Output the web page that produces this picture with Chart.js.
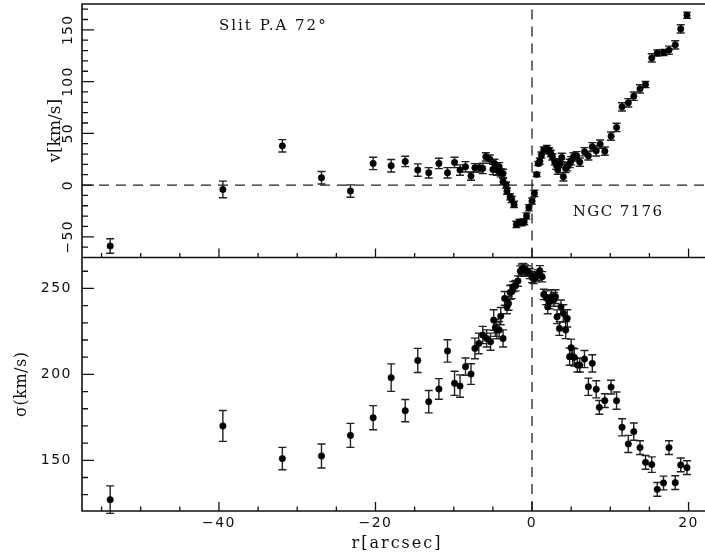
<!DOCTYPE html>
<html>
<head>
<meta charset="utf-8">
<script src="https://cdn.jsdelivr.net/npm/chart.js@4.4.1/dist/chart.umd.min.js"></script>
<style>
  html, body { margin: 0; padding: 0; background: #fff; }
  #wrap { width: 705px; height: 556px; }
</style>
</head>
<body>
<div id="wrap"><canvas id="kin" width="705" height="556"></canvas></div>
<script>
// NGC 7176 kinematics, slit P.A. 72 deg: rotation (top) and dispersion (bottom)

const rVel = [-53.9, -39.5, -31.9, -26.9, -23.2, -20.3, -18.0, -16.2, -14.6, -13.2, -11.9, -10.8, -9.9, -9.2, -8.5,
  -7.8, -7.3, -6.7, -6.3, -5.9, -5.4, -5.0, -4.8, -4.5, -4.2, -4.0, -3.7, -3.7, -3.3, -3.2, -2.8, -2.6, -2.3,
  -2.0, -1.6, -1.3, -1.0, -0.7, -0.4, 0.0, 0.3, 0.6, 0.8, 1.0, 1.2, 1.5, 1.9, 2.2, 2.4, 2.6, 2.9, 3.1, 3.3,
  3.6, 3.8, 4.0, 4.3, 4.5, 4.8, 5.0, 5.3, 5.7, 6.1, 6.7, 7.2, 7.7, 8.2, 8.7, 9.3, 10.1, 10.8, 11.5, 12.3,
  13.0, 13.8, 14.5, 15.3, 16.0, 16.8, 17.5, 18.3, 19.0, 19.8];
const vel = [-58.9, -4.2, 37.9, 7.1, -5.8, 20.9, 18.7, 22.8, 14.5, 11.9, 20.9, 11.9, 21.9, 14.5, 17.7,
  8.7, 16.7, 16.7, 16.1, 27.3, 25.1, 15.1, 20.9, 14.5, 17.7, 11.9, 11.3, 3.2, 0, -5.8, -11.3, -13.8, -18.7,
  -38, -36, -36.4, -35.4, -29.9, -21.9, -15.4, -8, 10.3, 20.9, 23.2, 29, 33.8, 35.4, 33.1, 30.6, 27.3, 22.5, 19.3, 14.5,
  20.9, 26.7, 8, 16.1, 17.7, 20.9, 23.5, 27.3, 28.3, 22.2, 32.2, 28.3, 37, 33.1, 39.6, 32.8, 47.3, 55.7, 75.6, 79.5,
  85.9, 93, 97.2, 122.9, 127.7, 128.1, 130.3, 135.5, 150.9, 164.1];
const velErr = [7, 8, 6, 6, 6, 6, 6, 5, 6, 5, 5, 5, 5, 5, 5,
  4, 4, 4, 5, 4, 4, 5, 4, 5, 4, 4, 4, 3, 3, 3, 3, 3, 3,
  3, 3, 3, 3, 3, 3, 3, 3, 2, 2, 3, 3, 3, 3, 3, 3, 3, 3, 4, 4,
  4, 4, 4, 4, 4, 4, 4, 4, 4, 4, 4, 4, 4, 5, 4, 4, 4, 4, 4, 4,
  4, 4, 3, 4, 3, 3, 4, 4, 4, 3];

const rSig = [-53.9, -39.5, -31.9, -26.9, -23.2, -20.3, -18.0, -16.2, -14.6, -13.2, -11.9, -10.8, -9.9, -9.2, -8.5,
  -7.8, -7.3, -6.8, -6.3, -5.8, -5.3, -4.9, -4.7, -4.5, -4.2, -4.0, -3.7, -3.5, -3.2, -3.0, -2.8, -2.6, -2.4,
  -2.1, -1.8, -1.5, -1.3, -1.1, -0.9, -0.6, -0.3, 0.0, 0.2, 0.5, 0.7, 1.0, 1.3, 1.5, 1.8, 2.0, 2.2, 2.5, 2.8,
  3.0, 3.2, 3.5, 3.7, 4.0, 4.3, 4.5, 4.8, 5.0, 5.2, 5.4, 5.8, 6.1, 6.7, 7.2, 7.7, 8.2, 8.6, 9.3, 10.1, 10.8,
  11.5, 12.3, 13.0, 13.8, 14.5, 15.3, 16.0, 16.8, 17.5, 18.3, 19.0, 19.8];
const sig = [127.1, 170, 151, 152.5, 164.5, 174.8, 198.1, 178.9, 208.1, 184.1, 191.5, 213.6, 194.8, 193.2, 204.5,
  200.2, 215.1, 218, 222.9, 220.9, 219, 231.6, 227.1, 225.8, 225.8, 233.9, 220.9, 244.2, 239.3, 241.3, 247.7, 248.1, 251,
  251.6, 254.3, 260.1, 261.2, 261.6, 260.7, 260.1, 258.7, 256.4, 255.8, 256.8, 257.8, 260.3, 256.8, 246.5, 244.6, 239.3, 242.2, 245.2, 243.6,
  245.2, 233.5, 226.7, 239.3, 235.5, 225.8, 232.6, 210.3, 215.5, 210.3, 209.9, 205.4, 205.4, 208.9, 192.8, 206.4, 191.3, 180.8, 184.7, 192.6, 184.7,
  169.2, 159.5, 166.7, 157.4, 148.8, 147.5, 133.1, 136.8, 157.4, 137, 147.3, 145.7];
const sigErr = [8, 9, 6.5, 7, 7, 7, 8, 6.5, 7, 6.5, 6, 6.5, 7, 6.5, 5,
  6, 6, 6, 5, 5, 5, 6, 5, 5, 5, 5, 5, 4, 4, 4, 4, 4, 3,
  3, 3, 3, 3, 3, 3, 3, 3, 3, 3, 3, 3, 3, 3, 3, 4, 4, 4, 4, 4,
  4, 4, 4, 4, 5, 5, 5, 5, 5, 5, 5, 4, 4, 5, 5, 5, 5, 4, 4, 4, 5,
  5, 5, 5, 4, 4, 4.5, 4, 4, 4, 4, 4, 4];

const xTicks = [-40, -20, 0, 20];
const vTicks = [-50, 0, 50, 100, 150];
const sTicks = [150, 200, 250];

// axis ranges of the two panels
const xMin = -57.5, xMax = 22.1;
const vMin = -70, vMax = 175;
const sMin = 120.5, sMax = 268;

const INK = '#111';
const numFont = '14px "DejaVu Sans"';
const txtFont = '16px "DejaVu Serif"';

function pts(xs, ys) { return xs.map((x, i) => ({ x: x, y: ys[i] })); }

function text(ctx, s, x, y, spacing) {
  ctx.letterSpacing = (spacing || 0) + 'px';
  ctx.fillText(s, x, y);
  ctx.letterSpacing = '0px';
}

// error bars, frame, inward ticks and labels (PGPLOT look)
const framePlugin = {
  id: 'frame',
  beforeDatasetsDraw(chart) {
    const ctx = chart.ctx, sx = chart.scales.x;
    ctx.save();
    ctx.strokeStyle = '#222';
    ctx.lineWidth = 1.4;
    const bars = [[rVel, vel, velErr, chart.scales.yv], [rSig, sig, sigErr, chart.scales.ys]];
    bars.forEach(([xs, ys, es, sy]) => {
      xs.forEach((x, i) => {
        const px = sx.getPixelForValue(x);
        const lo = sy.getPixelForValue(ys[i] - es[i]);
        const hi = sy.getPixelForValue(ys[i] + es[i]);
        ctx.beginPath();
        ctx.moveTo(px, lo); ctx.lineTo(px, hi);
        ctx.moveTo(px - 4, lo); ctx.lineTo(px + 4, lo);
        ctx.moveTo(px - 4, hi); ctx.lineTo(px + 4, hi);
        ctx.stroke();
      });
    });
    ctx.restore();
  },
  afterDraw(chart) {
    const ctx = chart.ctx, a = chart.chartArea;
    const sx = chart.scales.x, sv = chart.scales.yv, ss = chart.scales.ys;
    const mid = sv.getPixelForValue(vMin);
    ctx.save();
    ctx.strokeStyle = INK;
    ctx.lineWidth = 1.6;
    ctx.beginPath();
    ctx.moveTo(a.right, a.top); ctx.lineTo(a.left, a.top); ctx.lineTo(a.left, a.bottom); ctx.lineTo(a.right, a.bottom);
    ctx.moveTo(a.left, mid); ctx.lineTo(a.right, mid);
    ctx.stroke();

    ctx.lineWidth = 1.3;
    ctx.beginPath();
    // x ticks on the bottom of each panel
    [mid, a.bottom].forEach(yb => {
      for (let t = -55; t <= 20; t += 5) {
        const px = sx.getPixelForValue(t);
        const len = t % 20 === 0 ? 9 : 4.5;
        ctx.moveTo(px, yb); ctx.lineTo(px, yb - len);
      }
    });
    // y ticks
    for (let t = -60; t <= 170; t += 10) {
      const py = sv.getPixelForValue(t);
      ctx.moveTo(a.left, py); ctx.lineTo(a.left + (t % 50 === 0 ? 12 : 6), py);
    }
    for (let t = 130; t <= 260; t += 10) {
      const py = ss.getPixelForValue(t);
      ctx.moveTo(a.left, py); ctx.lineTo(a.left + (t % 50 === 0 ? 12 : 6), py);
    }
    ctx.stroke();

    ctx.fillStyle = INK;
    ctx.font = numFont;
    ctx.textBaseline = 'middle';
    // top panel numbers are written vertically
    vTicks.forEach(t => {
      ctx.save();
      ctx.translate(a.left - 14, sv.getPixelForValue(t));
      ctx.rotate(-Math.PI / 2);
      ctx.textAlign = 'center';
      text(ctx, String(t).replace('-', '\u2212'), 0, 0, 1.2);
      ctx.restore();
    });
    ctx.textAlign = 'right';
    sTicks.forEach(t => text(ctx, String(t), a.left - 10, ss.getPixelForValue(t), 1.5));
    ctx.textAlign = 'center';
    xTicks.forEach(t => text(ctx, String(t).replace('-', '\u2212'), sx.getPixelForValue(t), a.bottom + 12, 1.5));

    ctx.font = txtFont;
    text(ctx, 'r[arcsec]', sx.getPixelForValue((xMin + 23) / 2), a.bottom + 33, 2);

    ctx.save();
    ctx.font = '17px "DejaVu Serif"';
    ctx.translate(a.left - 26, (a.top + mid) / 2);
    ctx.rotate(-Math.PI / 2);
    text(ctx, 'v[km/s]', 0, 0, 0);
    ctx.restore();

    ctx.save();
    ctx.translate(a.left - 60, (mid + a.bottom) / 2);
    ctx.rotate(-Math.PI / 2);
    text(ctx, '\u03c3(km/s)', 0, 0, 0.5);
    ctx.restore();

    ctx.textAlign = 'left';
    ctx.font = '15px "DejaVu Serif"';
    text(ctx, 'Slit P.A 72\u00b0', sx.getPixelForValue(-40), sv.getPixelForValue(154), 2);
    text(ctx, 'NGC 7176', sx.getPixelForValue(5.2), sv.getPixelForValue(-26), 1.4);
    ctx.restore();
  }
};

const dashed = {
  type: 'line', borderColor: '#222', borderWidth: 1.3, borderDash: [10, 7],
  pointRadius: 0, showLine: true, fill: false
};

new Chart(document.getElementById('kin'), {
  type: 'scatter',
  data: {
    datasets: [
      Object.assign({ data: [{ x: xMin, y: 0 }, { x: xMax, y: 0 }], yAxisID: 'yv' }, dashed),
      Object.assign({ data: [{ x: 0, y: vMin }, { x: 0, y: vMax }], yAxisID: 'yv' }, dashed),
      Object.assign({ data: [{ x: 0, y: sMin }, { x: 0, y: sMax }], yAxisID: 'ys' }, dashed),
      { label: 'v', data: pts(rVel, vel), yAxisID: 'yv', pointRadius: 3.2, pointBackgroundColor: '#000',
        pointBorderColor: '#000', pointBorderWidth: 0.6 },
      { label: 'sigma', data: pts(rSig, sig), yAxisID: 'ys', pointRadius: 3.2, pointBackgroundColor: '#000',
        pointBorderColor: '#000', pointBorderWidth: 0.6 }
    ]
  },
  options: {
    responsive: false,
    animation: false,
    layout: { autoPadding: false, padding: { left: 82, top: 4, right: 0, bottom: 45 } },
    plugins: { legend: { display: false }, tooltip: { enabled: false } },
    scales: {
      x: { type: 'linear', min: xMin, max: xMax, display: false },
      // each y scale spans the whole plot; its own panel is one half of it
      yv: { type: 'linear', min: vMin - (vMax - vMin), max: vMax, display: false },
      ys: { type: 'linear', min: sMin, max: sMax + (sMax - sMin), display: false }
    }
  },
  plugins: [framePlugin]
});
</script>
</body>
</html>
